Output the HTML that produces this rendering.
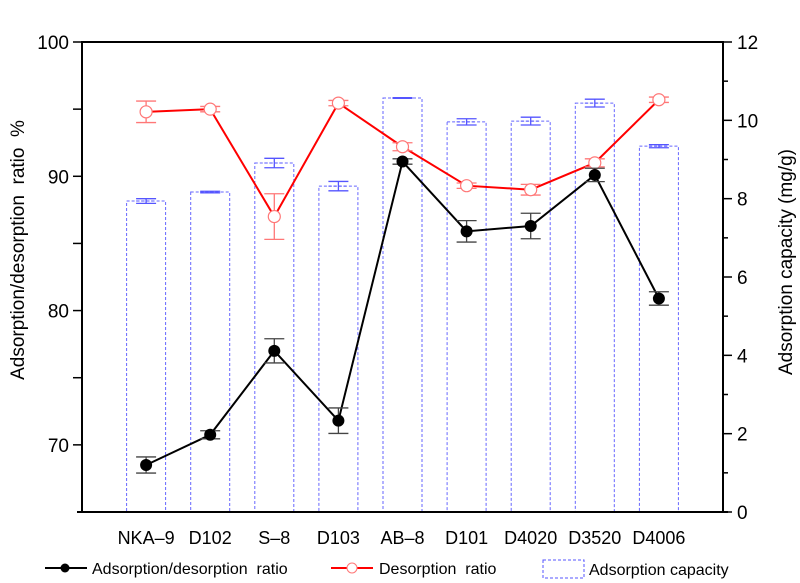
<!DOCTYPE html>
<html><head><meta charset="utf-8"><style>
body{margin:0;background:#fff;}
svg{display:block;font-family:"Liberation Sans",Arial,sans-serif;}
svg text{white-space:pre;}
</style></head><body>
<svg id="chart" width="800" height="583" viewBox="0 0 800 583">
<g id="bars"></g>
<g id="lines"></g>
<g id="axes"></g>
<text transform="translate(24,250) rotate(-90)" text-anchor="middle" font-size="19">Adsorption/desorption  ratio  %</text>
<text transform="translate(792,262) rotate(-90)" text-anchor="middle" font-size="19">Adsorption capacity (mg/g)</text>
<g font-size="16">
 <g>
  <line x1="45" y1="568" x2="87" y2="568" stroke="#000" stroke-width="2"/>
  <circle cx="65" cy="568" r="4.5" fill="#000"/>
  <text x="92" y="574">Adsorption/desorption  ratio</text>
 </g>
 <g>
  <line x1="331" y1="568" x2="373" y2="568" stroke="#f00" stroke-width="2"/>
  <circle cx="352" cy="568" r="5" fill="#fff" stroke="#f77" stroke-width="1"/>
  <text x="379" y="574">Desorption  ratio</text>
 </g>
 <g>
  <rect x="543" y="560" width="41" height="18" fill="none" stroke="#55f" stroke-dasharray="3,2" stroke-width="1"/>
  <text x="589" y="575">Adsorption capacity</text>
 </g>
</g>
</svg>
<script>
const categories=["NKA\u20139","D102","S\u20138","D103","AB\u20138","D101","D4020","D3520","D4006"];
const adsDesRatio=[68.5,70.75,77.0,71.8,91.1,85.9,86.3,90.1,80.9];
const adsDesErr=[0.6,0.3,0.9,0.95,0.2,0.8,0.95,0.5,0.5];
const desRatio=[94.8,95.0,87.0,95.45,92.2,89.3,89.0,91.0,95.7];
const desErr=[0.8,0.2,1.7,0.2,0.3,0.2,0.4,0.3,0.2];
const capacity=[7.94,8.17,8.91,8.32,10.57,9.96,9.98,10.44,9.34];
const capErr=[0.06,0.02,0.12,0.12,0.01,0.08,0.1,0.1,0.04];
const leftTicks=[70,80,90,100];
const rightTicks=[0,2,4,6,8,10,12];

const X0=82,X1=723,Y0=512,Y1=42;
const xs=i=>X0+(X1-X0)*(i+1)/10;
const yl=v=>Y0-(v-65)/35*(Y0-Y1);
const yr=v=>Y0-v/12*(Y0-Y1);
const NS="http://www.w3.org/2000/svg";
function mk(p,tag,a){const e=document.createElementNS(NS,tag);for(const k in a)e.setAttribute(k,a[k]);p.appendChild(e);return e;}
const gb=document.getElementById('bars'),gl=document.getElementById('lines'),ga=document.getElementById('axes');

function errbar(g,x,ya,yb,col,w,name){
 const e=mk(g,'path',{d:`M${x} ${ya}V${yb}M${x-w} ${ya}H${x+w}M${x-w} ${yb}H${x+w}`,stroke:col,'stroke-width':1.3,fill:'none'});
 
 
}
capacity.forEach((v,i)=>{
 const x=xs(i),w=39;
 const r=mk(gb,'rect',{x:x-w/2,y:yr(v),width:w,height:Y0-yr(v),fill:'none',stroke:'#66f','stroke-width':1,'stroke-dasharray':'3,2'});
 
 
 errbar(gb,x,yr(v+capErr[i]),yr(v-capErr[i]),'#55f',10,'capacity-error-'+i);
 mk(gb,'line',{x1:x-10,x2:x+10,y1:yr(v),y2:yr(v),stroke:'#55f','stroke-width':1,'stroke-dasharray':'3,2'});
});
const rp=mk(gl,'polyline',{points:desRatio.map((v,i)=>xs(i)+','+yl(v)).join(' '),fill:'none',stroke:'#f00','stroke-width':2});


desRatio.forEach((v,i)=>{
 errbar(gl,xs(i),yl(v+desErr[i]),yl(v-desErr[i]),'#f77',10,'desorption-error-'+i);
 const c=mk(gl,'circle',{cx:xs(i),cy:yl(v),r:6,fill:'#fff',stroke:'#f77','stroke-width':1.2});
 
 
});
const bp=mk(gl,'polyline',{points:adsDesRatio.map((v,i)=>xs(i)+','+yl(v)).join(' '),fill:'none',stroke:'#000','stroke-width':2});


adsDesRatio.forEach((v,i)=>{
 errbar(gl,xs(i),yl(v+adsDesErr[i]),yl(v-adsDesErr[i]),'#444',10,'ads-des-error-'+i);
 const c=mk(gl,'circle',{cx:xs(i),cy:yl(v),r:6,fill:'#000'});
 
 
});
mk(ga,'rect',{x:X0,y:Y1,width:X1-X0,height:Y0-Y1,fill:'none',stroke:'#000','stroke-width':2});
mk(ga,'line',{x1:X0-5,x2:X1+5,y1:Y0,y2:Y0,stroke:'#000','stroke-width':2});
for(let v=70;v<=100;v+=5){mk(ga,'line',{x1:X0-9,x2:X0,y1:yl(v),y2:yl(v),stroke:'#000','stroke-width':1.5});}
leftTicks.forEach(v=>{const t=mk(ga,'text',{x:X0-13,y:yl(v)+7,'text-anchor':'end','font-size':19});t.textContent=v;
 });
for(let v=0;v<=12;v++){mk(ga,'line',{x1:X1,x2:X1+(v%2?5:9),y1:yr(v),y2:yr(v),stroke:'#000','stroke-width':1.5});}
rightTicks.forEach(v=>{const t=mk(ga,'text',{x:X1+14,y:yr(v)+7,'font-size':19});t.textContent=v;
 });
categories.forEach((c,i)=>{const t=mk(ga,'text',{x:xs(i),y:544,'text-anchor':'middle','font-size':18});t.textContent=c;
 });
</script>
</body></html>
